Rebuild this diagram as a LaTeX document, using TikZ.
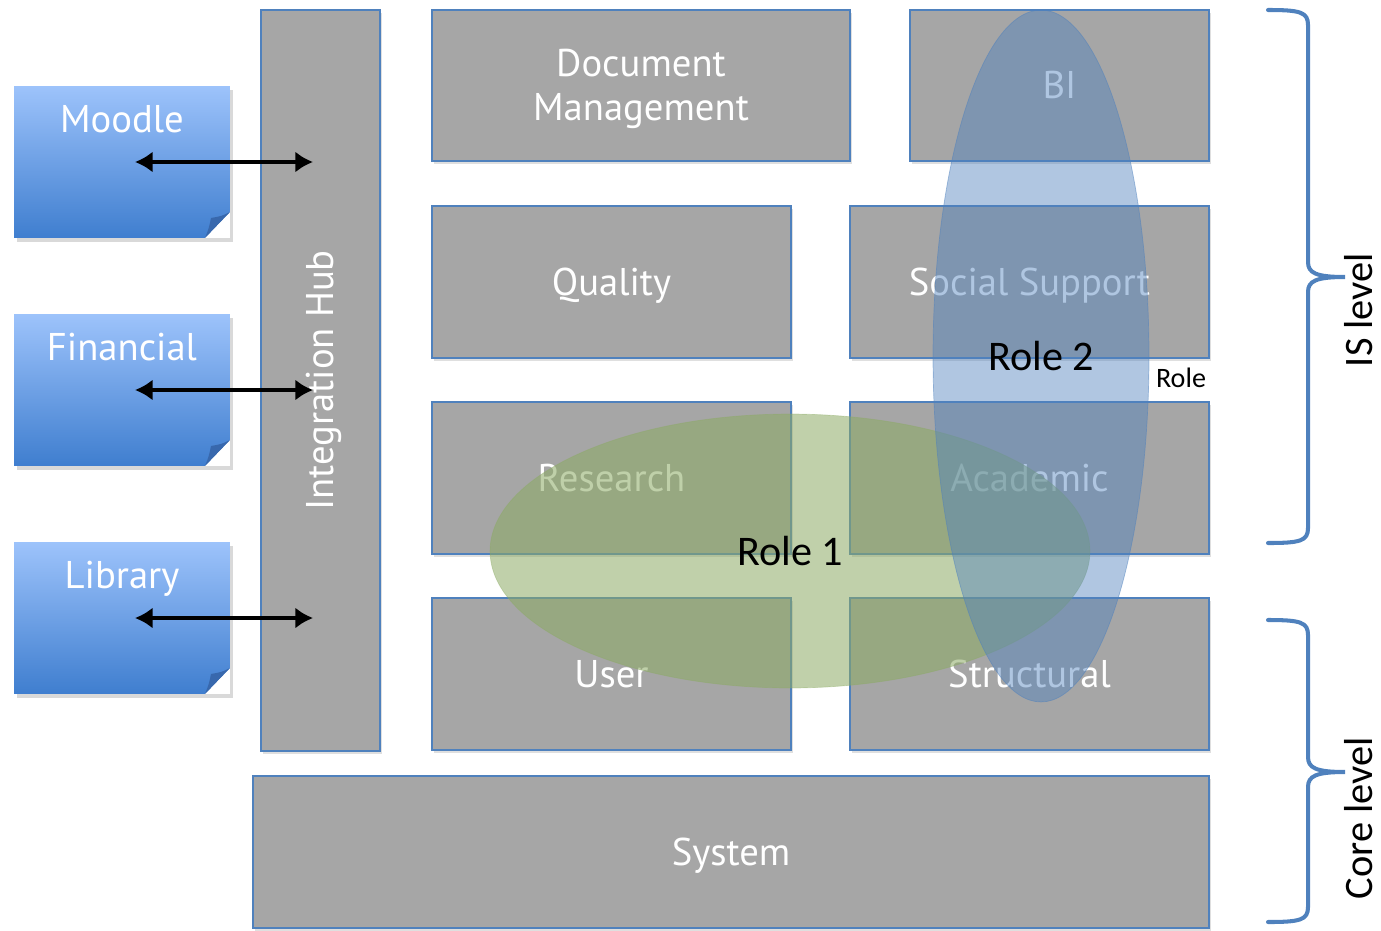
\documentclass[tikz,border=0pt]{standalone}
\usepackage{fontspec}
\setmainfont{PT Sans}
\newfontfamily\rolefont{Carlito}
\usetikzlibrary{arrows.meta, positioning, shapes.geometric, shadows, calc}
\definecolor{boxgray}{HTML}{A6A6A6}
\definecolor{edgeblue}{HTML}{4F81BD}
\definecolor{notetop}{HTML}{9DC3FB}
\definecolor{notebottom}{HTML}{3F7ECF}
\definecolor{notefold}{HTML}{3868AD}
\definecolor{rolegreen}{HTML}{8CAA64}
\tikzset{%
	module/.style={
		draw=edgeblue,
		line width=0.9pt,
		fill=boxgray,
		text=white,
		align=center,
		inner sep=0pt,
		text height=17pt,
		text depth=2pt,
		font=\fontsize{22}{25}\selectfont,
		drop shadow={shadow xshift=1pt, shadow yshift=-1.5pt, opacity=.25}
	},
	notebox/.style={
		rectangle,
		top color=notetop,
		bottom color=notebottom,
		minimum width=4.32cm,
		minimum height=3.04cm,
		inner sep=0pt,
		text height=0.92cm,
		text depth=2.12cm,
		text=white,
		font=\fontsize{22}{25}\selectfont,
		drop shadow={shadow xshift=1.5pt, shadow yshift=-2pt, opacity=.3},
		path picture={
			\fill[white] ($(path picture bounding box.south east)+(0,-26)$) -- (path picture bounding box.south east) -- ++(-25,0) -- cycle;
			\fill[notefold] ($(path picture bounding box.south east)+(0,-26)$) .. controls ($(path picture bounding box.south east)+(-8,-22)$) .. ($(path picture bounding box.south east)+(-19,-20)$) .. controls ($(path picture bounding box.south east)+(-21,-10)$) .. ($(path picture bounding box.south east)+(-25,0)$) -- cycle;
		}
	},
	link/.style={
		line width=2.3pt,
		{Latex[length=10pt,width=12pt]}-{Latex[length=10pt,width=12pt]}
	},
	role/.style={
		ellipse,
		inner sep=0pt,
		text opacity=1,
		text=black,
		font=\rolefont\fontsize{24}{26}\selectfont
	},
	levelbrace/.style={
		draw=edgeblue,
		line width=2.3pt,
		line cap=round
	},
	leveltext/.style={
		rotate=90,
		font=\rolefont\fontsize{23}{25}\selectfont
	}
}

\begin{document}
\begin{tikzpicture}[x=0.02cm, y=-0.02cm]
	\useasboundingbox (0,0) rectangle (1381,930);

	% Integration hub
	\node[module, rotate=90, minimum width=14.82cm, minimum height=2.38cm] (hub) at (320.5,380.5) {Integration Hub};

	% Outside systems
	\node[notebox] (moodle) at (122,162) {Moodle};
	\node[notebox] (financial) at (122,390) {Financial};
	\node[notebox] (library) at (122,618) {Library};

	% Modules
	\node[module, text height=42pt, minimum width=8.36cm, minimum height=3.02cm] (docmgmt) at (641,85.5) {Document\\Management};
	\node[module, minimum width=5.98cm, minimum height=3.02cm] (bi) at (1059.5,85.5) {BI};
	\node[module, minimum width=7.18cm, minimum height=3.04cm] (quality) at (611.5,282) {Quality};
	\node[module, minimum width=7.18cm, minimum height=3.04cm] (social) at (1029.5,282) {Social Support};
	\node[module, minimum width=7.18cm, minimum height=3.04cm] (research) at (611.5,478) {Research};
	\node[module, minimum width=7.18cm, minimum height=3.04cm] (academic) at (1029.5,478) {Academic};
	\node[module, minimum width=7.18cm, minimum height=3.04cm] (user) at (611.5,674) {User};
	\node[module, minimum width=7.18cm, minimum height=3.04cm] (structural) at (1029.5,674) {Structural};
	\node[module, minimum width=19.12cm, minimum height=3.04cm] (system) at (731,852) {System};

	% Arrows to the hub
	\coordinate (hubin) at (313,0);
	\draw[link] ([xshift=0.26cm]moodle.center) -- (hubin |- moodle.center);
	\draw[link] ([xshift=0.26cm]financial.center) -- (hubin |- financial.center);
	\draw[link] ([xshift=0.26cm]library.center) -- (hubin |- library.center);

	% Roles
	\node[role, minimum width=12cm, minimum height=5.48cm, fill=rolegreen, fill opacity=.55, draw=rolegreen, draw opacity=.4] (role1) at (790,551) {Role 1};
	\node[role, minimum width=4.32cm, minimum height=13.84cm, fill=edgeblue, fill opacity=.45, draw=edgeblue, draw opacity=.5] (role2) at (1041,356) {Role 2};
	\node[font=\rolefont\fontsize{16}{18}\selectfont] (rolelbl) at (1181,378) {Role};

	% Levels
	\draw[levelbrace] (1268,10) .. controls (1300,10) and (1308,12) .. (1308,25) -- (1308,262)
		.. controls (1308,273) and (1316,277) .. (1345,277)
		.. controls (1316,277) and (1308,281) .. (1308,292) -- (1308,528)
		.. controls (1308,541) and (1300,543) .. (1268,543);
	\draw[levelbrace] (1268,620) .. controls (1300,620) and (1308,622) .. (1308,635) -- (1308,757)
		.. controls (1308,768) and (1316,772) .. (1345,772)
		.. controls (1316,772) and (1308,776) .. (1308,787) -- (1308,907)
		.. controls (1308,920) and (1300,922) .. (1268,922);
	\node[leveltext] (islevel) at (1359,310) {IS level};
	\node[leveltext] (corelevel) at (1359,818) {Core level};

\end{tikzpicture}
\end{document}
